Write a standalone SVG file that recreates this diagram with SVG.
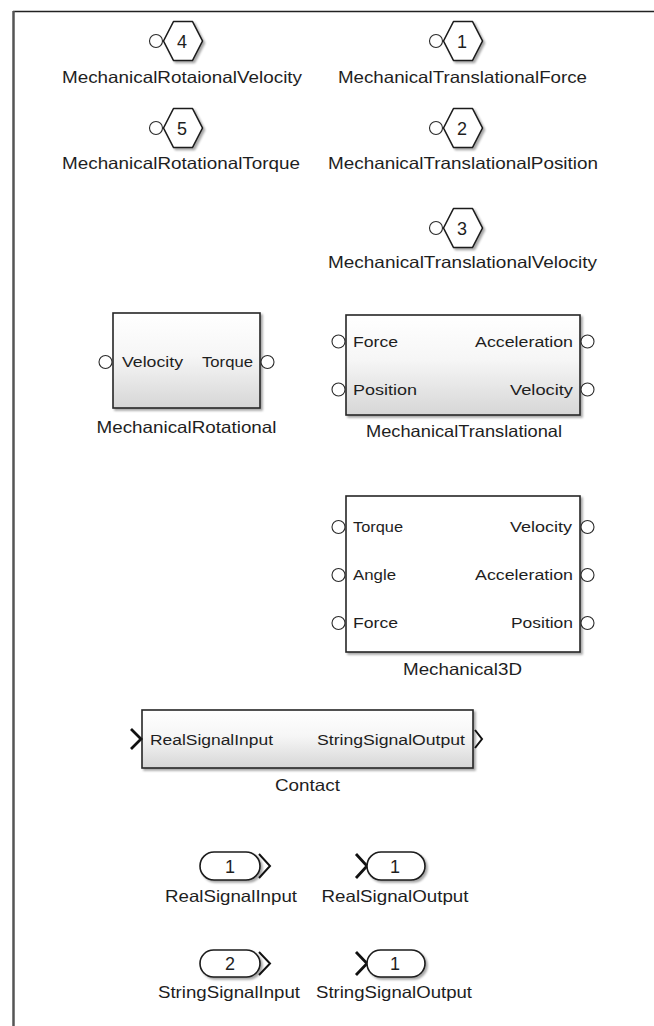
<svg xmlns="http://www.w3.org/2000/svg" width="654" height="1026" viewBox="0 0 654 1026">
  <style>
    .lbl { font-family: "Liberation Sans", Arial, sans-serif; font-size: 16.5px; fill: #1e1e1e; text-anchor: middle; }
    .port { font-family: "Liberation Sans", Arial, sans-serif; font-size: 14px; fill: #1e1e1e; }
    .num { font-family: "Liberation Sans", Arial, sans-serif; font-size: 18px; fill: #1e1e1e; text-anchor: middle; }
    .hex { fill: #ffffff; stroke: #1a1a1a; stroke-width: 1.6; stroke-linejoin: round; }
    .pc { fill: #ffffff; stroke: #2a2a2a; stroke-width: 1.1; }
    .blk { stroke: #262626; stroke-width: 1.6; }
    .pill { fill: #ffffff; stroke: #1a1a1a; stroke-width: 1.6; }
    .chev { fill: none; stroke: #111111; stroke-width: 2.8; stroke-linejoin: miter; }
    .chev2 { fill: none; stroke: #111111; stroke-width: 2; stroke-linejoin: miter; }
  </style>
  <defs>
    <linearGradient id="grad" x1="0" y1="0" x2="0" y2="1">
      <stop offset="0" stop-color="#ffffff"/>
      <stop offset="0.45" stop-color="#f6f6f6"/>
      <stop offset="1" stop-color="#d6d6d6"/>
    </linearGradient>
    <filter id="shadow" x="-10%" y="-10%" width="130%" height="130%">
      <feDropShadow dx="2" dy="2" stdDeviation="1.2" flood-color="#000000" flood-opacity="0.35"/>
    </filter>
    <polygon id="hexShape" points="-19.5,0 -9.5,-19.5 9.5,-19.5 19.5,0 9.5,19.5 -9.5,19.5"/>
  </defs>

  <rect x="0" y="0" width="654" height="1026" fill="#ffffff"/>

  <!-- canvas frame -->
  <line x1="13" y1="11.5" x2="654" y2="11.5" stroke="#222222" stroke-width="1.5"/>
  <line x1="13.5" y1="11" x2="13.5" y2="1026" stroke="#555555" stroke-width="2.5"/>

  <!-- rotational outports -->
  <g id="out4">
    <circle class="pc" cx="156" cy="41" r="6.5"/>
    <use href="#hexShape" x="183" y="41" class="hex" filter="url(#shadow)"/>
    <text class="num" x="182" y="47.5">4</text>
    <text class="lbl" x="182" y="83" textLength="240" lengthAdjust="spacingAndGlyphs">MechanicalRotaionalVelocity</text>
  </g>
  <g id="out5">
    <circle class="pc" cx="156" cy="128" r="6.5"/>
    <use href="#hexShape" x="183" y="128" class="hex" filter="url(#shadow)"/>
    <text class="num" x="182" y="134.5">5</text>
    <text class="lbl" x="181" y="169" textLength="238" lengthAdjust="spacingAndGlyphs">MechanicalRotationalTorque</text>
  </g>

  <!-- translational outports -->
  <g id="out1">
    <circle class="pc" cx="436" cy="41" r="6.5"/>
    <use href="#hexShape" x="463" y="41" class="hex" filter="url(#shadow)"/>
    <text class="num" x="462" y="47.5">1</text>
    <text class="lbl" x="462.5" y="83" textLength="249" lengthAdjust="spacingAndGlyphs">MechanicalTranslationalForce</text>
  </g>
  <g id="out2">
    <circle class="pc" cx="436" cy="128" r="6.5"/>
    <use href="#hexShape" x="463" y="128" class="hex" filter="url(#shadow)"/>
    <text class="num" x="462" y="134.5">2</text>
    <text class="lbl" x="463" y="169" textLength="270" lengthAdjust="spacingAndGlyphs">MechanicalTranslationalPosition</text>
  </g>
  <g id="out3">
    <circle class="pc" cx="436" cy="228" r="6.5"/>
    <use href="#hexShape" x="463" y="228" class="hex" filter="url(#shadow)"/>
    <text class="num" x="462" y="234.5">3</text>
    <text class="lbl" x="462.5" y="268" textLength="269" lengthAdjust="spacingAndGlyphs">MechanicalTranslationalVelocity</text>
  </g>

  <!-- MechanicalRotational block -->
  <g id="MechanicalRotational">
    <rect class="blk" x="113" y="313" width="147" height="95" fill="url(#grad)" filter="url(#shadow)"/>
    <circle class="pc" cx="105.5" cy="362" r="6.5"/>
    <circle class="pc" cx="267.5" cy="362" r="6.5"/>
    <text class="port" x="122" y="367" textLength="61" lengthAdjust="spacingAndGlyphs">Velocity</text>
    <text class="port" x="202" y="367" textLength="51" lengthAdjust="spacingAndGlyphs">Torque</text>
    <text class="lbl" x="186.5" y="433" textLength="180" lengthAdjust="spacingAndGlyphs">MechanicalRotational</text>
  </g>

  <!-- MechanicalTranslational block -->
  <g id="MechanicalTranslational">
    <rect class="blk" x="346" y="315" width="234" height="100" fill="url(#grad)" filter="url(#shadow)"/>
    <circle class="pc" cx="338.5" cy="341.5" r="6.5"/>
    <circle class="pc" cx="338.5" cy="389.5" r="6.5"/>
    <circle class="pc" cx="587.5" cy="341.5" r="6.5"/>
    <circle class="pc" cx="587.5" cy="389.5" r="6.5"/>
    <text class="port" x="353" y="346.5" textLength="45" lengthAdjust="spacingAndGlyphs">Force</text>
    <text class="port" x="353" y="394.5" textLength="64" lengthAdjust="spacingAndGlyphs">Position</text>
    <text class="port" x="475" y="346.5" textLength="98" lengthAdjust="spacingAndGlyphs">Acceleration</text>
    <text class="port" x="510" y="394.5" textLength="63" lengthAdjust="spacingAndGlyphs">Velocity</text>
    <text class="lbl" x="464" y="436.5" textLength="196" lengthAdjust="spacingAndGlyphs">MechanicalTranslational</text>
  </g>

  <!-- Mechanical3D block -->
  <g id="Mechanical3D">
    <rect class="blk" x="346" y="496" width="234" height="156" fill="#ffffff" filter="url(#shadow)"/>
    <circle class="pc" cx="338.5" cy="527" r="6.5"/>
    <circle class="pc" cx="338.5" cy="575" r="6.5"/>
    <circle class="pc" cx="338.5" cy="623" r="6.5"/>
    <circle class="pc" cx="587.5" cy="527" r="6.5"/>
    <circle class="pc" cx="587.5" cy="575" r="6.5"/>
    <circle class="pc" cx="587.5" cy="623" r="6.5"/>
    <text class="port" x="353" y="532" textLength="50" lengthAdjust="spacingAndGlyphs">Torque</text>
    <text class="port" x="353" y="580" textLength="43" lengthAdjust="spacingAndGlyphs">Angle</text>
    <text class="port" x="353" y="628" textLength="45" lengthAdjust="spacingAndGlyphs">Force</text>
    <text class="port" x="510" y="532" textLength="62" lengthAdjust="spacingAndGlyphs">Velocity</text>
    <text class="port" x="475" y="580" textLength="98" lengthAdjust="spacingAndGlyphs">Acceleration</text>
    <text class="port" x="511" y="628" textLength="62" lengthAdjust="spacingAndGlyphs">Position</text>
    <text class="lbl" x="462.5" y="675" textLength="119" lengthAdjust="spacingAndGlyphs">Mechanical3D</text>
  </g>

  <!-- Contact block -->
  <g id="Contact">
    <rect class="blk" x="142" y="710" width="331" height="58" fill="url(#grad)" filter="url(#shadow)"/>
    <polyline class="chev" points="131,729 141,739 131,749"/>
    <polyline class="chev2" points="475,730 482,739 475,748"/>
    <text class="port" x="150" y="744.5" textLength="123" lengthAdjust="spacingAndGlyphs">RealSignalInput</text>
    <text class="port" x="317" y="744.5" textLength="148" lengthAdjust="spacingAndGlyphs">StringSignalOutput</text>
    <text class="lbl" x="307.5" y="791" textLength="65" lengthAdjust="spacingAndGlyphs">Contact</text>
  </g>

  <!-- signal inports / outports -->
  <g id="RealSignalInput">
    <rect class="pill" x="200" y="852" width="60" height="28" rx="14" filter="url(#shadow)"/>
    <polyline class="chev2" points="259,854 270,866 259,878"/>
    <text class="num" x="230" y="872.5">1</text>
    <text class="lbl" x="231" y="902" textLength="132" lengthAdjust="spacingAndGlyphs">RealSignalInput</text>
  </g>
  <g id="RealSignalOutput">
    <polyline class="chev" points="356,854 367,866 356,878"/>
    <rect class="pill" x="367" y="852" width="58" height="28" rx="14" filter="url(#shadow)"/>
    <text class="num" x="395" y="872.5">1</text>
    <text class="lbl" x="395" y="902" textLength="147" lengthAdjust="spacingAndGlyphs">RealSignalOutput</text>
  </g>
  <g id="StringSignalInput">
    <rect class="pill" x="200" y="950" width="60" height="27" rx="13.5" filter="url(#shadow)"/>
    <polyline class="chev2" points="259,952 270,963.5 259,975"/>
    <text class="num" x="230" y="970">2</text>
    <text class="lbl" x="229" y="998" textLength="142" lengthAdjust="spacingAndGlyphs">StringSignalInput</text>
  </g>
  <g id="StringSignalOutput">
    <polyline class="chev" points="356,952 367,963.5 356,975"/>
    <rect class="pill" x="367" y="950" width="58" height="27" rx="13.5" filter="url(#shadow)"/>
    <text class="num" x="395" y="970">1</text>
    <text class="lbl" x="394" y="998" textLength="156" lengthAdjust="spacingAndGlyphs">StringSignalOutput</text>
  </g>

  <!-- no connectors are drawn between these blocks -->
  <g id="connectors"/>
</svg>
